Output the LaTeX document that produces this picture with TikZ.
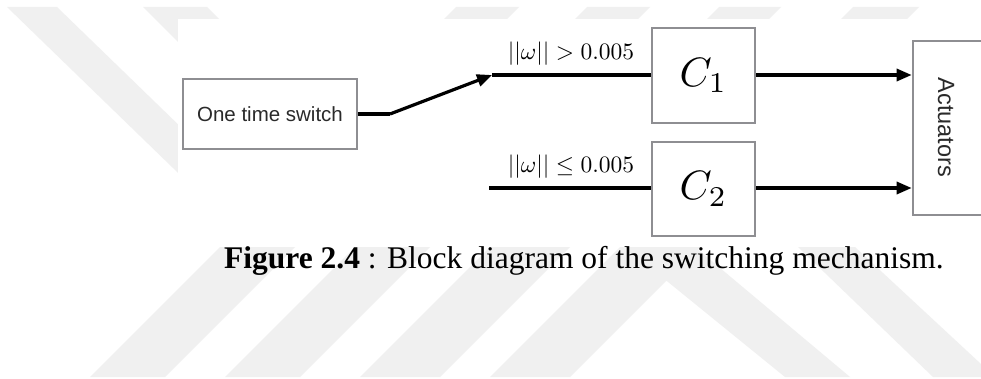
\documentclass[tikz,border=0pt]{standalone}
\usepackage{graphicx}
\usepackage{fontspec}
\newfontfamily\helv{Liberation Sans}
\newfontfamily\tms{Liberation Serif}
\usetikzlibrary{arrows.meta}
\definecolor{wm}{HTML}{F0F0F0}
\definecolor{bord}{HTML}{8E8E92}
\definecolor{txt}{HTML}{2A2A2A}
\tikzset{
  blockbox/.style={draw=bord, line width=2.6pt, fill=white, inner sep=0pt},
  conn/.style={line width=3.2pt, black},
  arr/.style={conn, -{Triangle[length=15pt,width=12pt]}},
  wmark/.style={fill=wm, draw=none}
}
\begin{document}
\begin{tikzpicture}[x=1pt,y=-1pt]
\useasboundingbox (0,0) rectangle (981,379);
\fill[white] (0,0) rectangle (981,379);
% watermark stripes
\fill[wmark] (7,7) -- (57,7) -- (256,200) -- (206,200) -- cycle;
\fill[wmark] (143,7) -- (207,7) -- (250,50) -- (186,50) -- cycle;
\fill[wmark] (456,7) -- (519,7) -- (495,31) -- (432,31) -- cycle;
\fill[wmark] (587,7) -- (650,7) -- (626,31) -- (563,31) -- cycle;
\fill[wmark] (719,7) -- (781,7) -- (757,31) -- (695,31) -- cycle;
\fill[wmark] (853,7) -- (919,7) -- (895,31) -- (829,31) -- cycle;
\fill[wmark] (220,247) -- (295,247) -- (165,377) -- (90,377) -- cycle;
\fill[wmark] (355,247) -- (430,247) -- (300,377) -- (225,377) -- cycle;
\fill[wmark] (490,247) -- (570,247) -- (440,377) -- (360,377) -- cycle;
\fill[wmark] (620,247) -- (700,247) -- (570,377) -- (490,377) -- cycle;
\fill[wmark] (625,247) -- (695,247) -- (850,377) -- (785,377) -- cycle;
\fill[wmark] (798,247) -- (855,247) -- (995,377) -- (933,377) -- cycle;
\fill[white] (178,19) rectangle (990,244);
% blocks
\node[blockbox, minimum width=174pt, minimum height=70pt, text=txt,
      font=\helv\fontsize{20.5}{24}\selectfont] (sw) at (270,114) {One time switch};
\node[blockbox, minimum width=103pt, minimum height=95pt] (c1) at (703.5,75.5) {\scalebox{4.1}{$C_1$}};
\node[blockbox, minimum width=103pt, minimum height=94pt] (c2) at (703.5,189) {\scalebox{4.1}{$C_2$}};
\node[blockbox, minimum width=80pt, minimum height=174pt] (act) at (953,128) {};
\node[text=txt, rotate=-90, font=\helv\fontsize{23.5}{28}\selectfont] (actl) at (946,127.5) {Actuators};
% labels
\node[anchor=base, inner sep=0pt] (l1) at (571,60) {\scalebox{2.35}{$||\omega|| > 0.005$}};
\node[anchor=base, inner sep=0pt] (l2) at (571,173) {\scalebox{2.35}{$||\omega|| \leq 0.005$}};
% connectors
\coordinate (kink) at (390,114);
\coordinate (tip) at (492,75);
\coordinate (in2) at (489,188);
\draw[conn] (sw.east) -- (kink);
\draw[arr] (kink) -- (tip);
\draw[conn] (tip) -- (tip -| c1.west);
\draw[conn] (in2) -- (in2 -| c2.west);
\draw[arr] (c1.east |- tip) -- (tip -| act.west);
\draw[arr] (c2.east |- in2) -- (in2 -| act.west);
% caption
\node[anchor=base west, inner sep=0pt, font=\tms\fontsize{31.5}{36}\selectfont] (cap) at (224,268)
  {\textbf{Figure 2.4} : Block diagram of the switching mechanism.};
\end{tikzpicture}
\end{document}
